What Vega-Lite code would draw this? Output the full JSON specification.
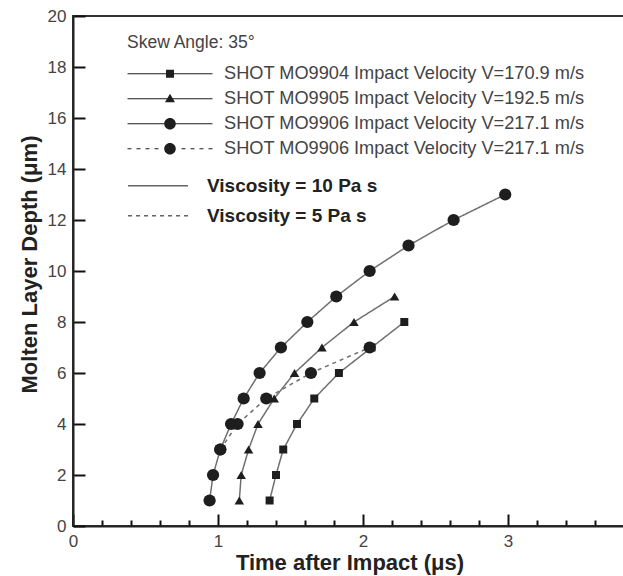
{
  "$schema": "https://vega.github.io/schema/vega-lite/v6.json",
  "width": 553,
  "height": 510,
  "autosize": {"type": "none"},
  "padding": {"left": 73, "top": 16, "right": 0, "bottom": 50},
  "background": "white",
  "config": {
    "view": {"stroke": "#333", "strokeWidth": 2},
    "font": "Liberation Sans",
    "axisX": {
      "values": [0, 0.2, 0.4, 0.6, 0.8, 1, 1.2, 1.4, 1.6, 1.8, 2, 2.2, 2.4, 2.6, 2.8, 3, 3.2, 3.4, 3.6],
      "labelExpr": "datum.value % 1 === 0 ? format(datum.value, 'd') : ''",
      "grid": false, "domain": true, "domainColor": "#222", "domainWidth": 2,
      "ticks": true,
      "tickSize": {"condition": {"test": "datum.value % 1 === 0", "value": -12}, "value": -6},
      "tickWidth": 2, "tickColor": "#111",
      "labelFontSize": 17, "labelColor": "#444",
      "labelPadding": 19, "labelFlush": false,
      "titleFontSize": 22, "titleFontWeight": "bold",
      "titleColor": "#222", "titlePadding": 3
    },
    "axisY": {
      "values": [0, 2, 4, 6, 8, 10, 12, 14, 16, 18, 20],
      "grid": false, "domain": true, "domainColor": "#222", "domainWidth": 2,
      "ticks": true,
      "tickSize": -12, "tickWidth": 2, "tickColor": "#111",
      "labelFontSize": 17, "labelColor": "#444",
      "labelPadding": 19, "labelFlush": false,
      "titleFontSize": 22, "titleFontWeight": "bold",
      "titleColor": "#222", "titlePadding": 6, "titleY": 248
    }
  },
  "datasets": {
    "xmajor": [{"v": 1}, {"v": 2}, {"v": 3}],
    "xminor": [
      {"v": 0.2}, {"v": 0.4}, {"v": 0.6}, {"v": 0.8},
      {"v": 1.2}, {"v": 1.4}, {"v": 1.6}, {"v": 1.8},
      {"v": 2.2}, {"v": 2.4}, {"v": 2.6}, {"v": 2.8},
      {"v": 3.2}, {"v": 3.4}, {"v": 3.6}
    ],
    "ymajor": [{"v": 2}, {"v": 4}, {"v": 6}, {"v": 8}, {"v": 10}, {"v": 12}, {"v": 14}, {"v": 16}, {"v": 18}]
  },
  "data": {
    "values": [
      {"series": "A", "visc": "10", "t": 1.356, "d": 1},
      {"series": "A", "visc": "10", "t": 1.400, "d": 2},
      {"series": "A", "visc": "10", "t": 1.450, "d": 3},
      {"series": "A", "visc": "10", "t": 1.545, "d": 4},
      {"series": "A", "visc": "10", "t": 1.664, "d": 5},
      {"series": "A", "visc": "10", "t": 1.834, "d": 6},
      {"series": "A", "visc": "10", "t": 2.059, "d": 7},
      {"series": "A", "visc": "10", "t": 2.285, "d": 8},
      {"series": "B", "visc": "10", "t": 1.147, "d": 1},
      {"series": "B", "visc": "10", "t": 1.160, "d": 2},
      {"series": "B", "visc": "10", "t": 1.211, "d": 3},
      {"series": "B", "visc": "10", "t": 1.276, "d": 4},
      {"series": "B", "visc": "10", "t": 1.388, "d": 5},
      {"series": "B", "visc": "10", "t": 1.528, "d": 6},
      {"series": "B", "visc": "10", "t": 1.717, "d": 7},
      {"series": "B", "visc": "10", "t": 1.938, "d": 8},
      {"series": "B", "visc": "10", "t": 2.218, "d": 9},
      {"series": "C", "visc": "10", "t": 0.942, "d": 1},
      {"series": "C", "visc": "10", "t": 0.966, "d": 2},
      {"series": "C", "visc": "10", "t": 1.016, "d": 3},
      {"series": "C", "visc": "10", "t": 1.090, "d": 4},
      {"series": "C", "visc": "10", "t": 1.177, "d": 5},
      {"series": "C", "visc": "10", "t": 1.287, "d": 6},
      {"series": "C", "visc": "10", "t": 1.434, "d": 7},
      {"series": "C", "visc": "10", "t": 1.616, "d": 8},
      {"series": "C", "visc": "10", "t": 1.816, "d": 9},
      {"series": "C", "visc": "10", "t": 2.046, "d": 10},
      {"series": "C", "visc": "10", "t": 2.314, "d": 11},
      {"series": "C", "visc": "10", "t": 2.625, "d": 12},
      {"series": "C", "visc": "10", "t": 2.981, "d": 13},
      {"series": "D", "visc": "5", "t": 1.016, "d": 3},
      {"series": "D", "visc": "5", "t": 1.135, "d": 4},
      {"series": "D", "visc": "5", "t": 1.333, "d": 5},
      {"series": "D", "visc": "5", "t": 1.641, "d": 6},
      {"series": "D", "visc": "5", "t": 2.046, "d": 7}
    ]
  },
  "encoding": {
    "x": {"field": "t", "type": "quantitative", "title": "Time after Impact (μs)", "scale": {"domain": [0, 3.814], "nice": false, "zero": false}},
    "y": {"field": "d", "type": "quantitative", "title": "Molten Layer Depth (μm)", "scale": {"domain": [0, 20], "nice": false}}
  },
  "layer": [
    {
      "data": {"name": "xmajor"},
      "mark": {"type": "tick", "orient": "vertical", "size": 12, "thickness": 2, "color": "#111", "opacity": 1, "yOffset": -6},
      "encoding": {
        "x": {"field": "v", "type": "quantitative", "title": "Time after Impact (μs)", "scale": {"domain": [0, 3.814], "nice": false, "zero": false}},
        "y": {"datum": 0, "type": "quantitative", "title": "Molten Layer Depth (μm)", "scale": {"domain": [0, 20], "nice": false}}
      }
    },
    {
      "data": {"name": "xminor"},
      "mark": {"type": "tick", "orient": "vertical", "size": 6, "thickness": 1.5, "color": "#111", "opacity": 1, "yOffset": -3},
      "encoding": {
        "x": {"field": "v", "type": "quantitative", "title": "Time after Impact (μs)", "scale": {"domain": [0, 3.814], "nice": false, "zero": false}},
        "y": {"datum": 0, "type": "quantitative", "title": "Molten Layer Depth (μm)", "scale": {"domain": [0, 20], "nice": false}}
      }
    },
    {
      "data": {"name": "ymajor"},
      "mark": {"type": "tick", "orient": "horizontal", "size": 12, "thickness": 2, "color": "#111", "opacity": 1, "xOffset": 6},
      "encoding": {
        "x": {"datum": 0, "type": "quantitative", "title": "Time after Impact (μs)", "scale": {"domain": [0, 3.814], "nice": false, "zero": false}},
        "y": {"field": "v", "type": "quantitative", "title": "Molten Layer Depth (μm)", "scale": {"domain": [0, 20], "nice": false}}
      }
    },
    {
      "mark": {"type": "line", "color": "#707070", "strokeWidth": 1.5},
      "encoding": {
        "detail": {"field": "series"},
        "strokeDash": {
          "field": "visc", "type": "nominal",
          "scale": {"domain": ["10", "5"], "range": [[1, 0], [4, 4]]},
          "legend": {
            "title": null, "orient": "none", "legendX": 54, "legendY": 155, "padding": 0,
            "labelFont": "Liberation Sans", "labelFontSize": 19, "labelFontWeight": "bold",
            "labelColor": "#222", "labelLimit": 400, "labelOffset": 18,
            "symbolSize": 3600, "symbolStrokeWidth": 1.5, "symbolStrokeColor": "#666",
            "symbolType": "stroke", "clipHeight": 29.5, "rowPadding": 0,
            "labelExpr": "'Viscosity = ' + datum.value + ' Pa s'"
          }
        }
      }
    },
    {
      "mark": {"type": "point", "filled": true, "color": "#1e1e1e", "opacity": 1},
      "encoding": {
        "shape": {
          "field": "series", "type": "nominal",
          "scale": {"domain": ["A", "B", "C", "D"], "range": ["square", "triangle-up", "circle", "circle"]},
          "legend": null
        },
        "size": {
          "condition": [
            {"test": "datum.series === 'A'", "value": 64},
            {"test": "datum.series === 'B'", "value": 90}
          ],
          "value": 150
        }
      }
    },
    {
      "transform": [{"filter": "datum.d > 100"}],
      "mark": {"type": "point", "filled": true, "fill": "#1e1e1e", "stroke": "#6a6a6a", "strokeWidth": 0.3, "opacity": 1},
      "encoding": {
        "shape": {
          "field": "series", "type": "nominal",
          "scale": {
            "domain": ["A", "B", "C", "D"],
            "range": [
              "M-1,-0.0135L1,-0.0135L1,0.0135L-1,0.0135ZM-0.094,-0.094L0.094,-0.094L0.094,0.094L-0.094,0.094Z",
              "M-1,-0.0135L1,-0.0135L1,0.0135L-1,0.0135ZM-0.118,0.08L0,-0.12L0.118,0.08Z",
              "M-1,-0.0135L1,-0.0135L1,0.0135L-1,0.0135ZM0.136,0C0.136,0.0751,0.0751,0.136,0,0.136C-0.0751,0.136,-0.136,0.0751,-0.136,0C-0.136,-0.0751,-0.0751,-0.136,0,-0.136C0.0751,-0.136,0.136,-0.0751,0.136,0Z",
              "M-1,-0.0135L-0.906,-0.0135L-0.906,0.0135L-1,0.0135ZM-0.788,-0.0135L-0.694,-0.0135L-0.694,0.0135L-0.788,0.0135ZM-0.576,-0.0135L-0.482,-0.0135L-0.482,0.0135L-0.576,0.0135ZM-0.365,-0.0135L-0.271,-0.0135L-0.271,0.0135L-0.365,0.0135ZM0.271,-0.0135L0.365,-0.0135L0.365,0.0135L0.271,0.0135ZM0.482,-0.0135L0.576,-0.0135L0.576,0.0135L0.482,0.0135ZM0.694,-0.0135L0.788,-0.0135L0.788,0.0135L0.694,0.0135ZM0.906,-0.0135L1,-0.0135L1,0.0135L0.906,0.0135ZM0.136,0C0.136,0.0751,0.0751,0.136,0,0.136C-0.0751,0.136,-0.136,0.0751,-0.136,0C-0.136,-0.0751,-0.0751,-0.136,0,-0.136C0.0751,-0.136,0.136,-0.0751,0.136,0Z"
            ]
          },
          "legend": {
            "title": "Skew Angle: 35°", "orient": "none", "legendX": 54, "legendY": 18, "padding": 0,
            "titleFont": "Liberation Sans", "titleFontSize": 17.5, "titleFontWeight": "normal",
            "titleColor": "#444", "titlePadding": 10,
            "labelFont": "Liberation Sans", "labelFontSize": 18.2, "labelColor": "#444",
            "labelLimit": 500, "labelOffset": 11,
            "symbolSize": 7225, "symbolStrokeWidth": 0.3, "symbolStrokeColor": "#6a6a6a",
            "symbolFillColor": "#1e1e1e", "clipHeight": 24.5, "rowPadding": 0,
            "labelExpr": "datum.value === 'A' ? 'SHOT MO9904 Impact Velocity V=170.9 m/s' : datum.value === 'B' ? 'SHOT MO9905 Impact Velocity V=192.5 m/s' : 'SHOT MO9906 Impact Velocity V=217.1 m/s'"
          }
        }
      }
    }
  ],
  "resolve": {"scale": {"shape": "independent"}}
}
